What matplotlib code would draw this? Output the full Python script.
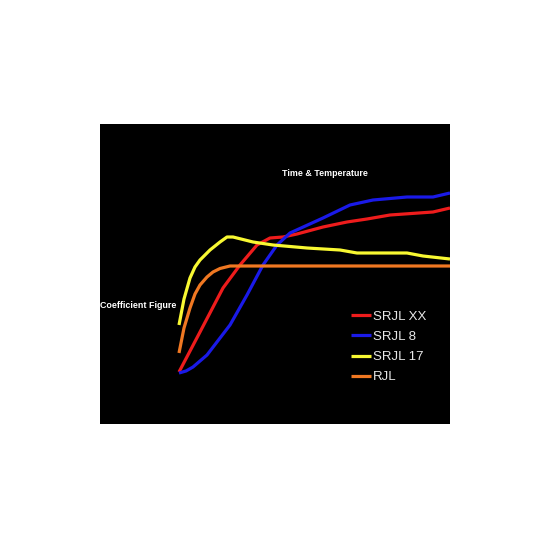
import matplotlib.pyplot as plt

# curve samples (x: time, y: coefficient)
yellow_x = [79, 84, 90, 95, 100, 110, 120, 127, 133, 153, 173, 207, 240, 257, 307, 323, 350]
yellow_y = [99, 125, 146, 157, 164, 174, 182, 187, 187, 182, 179, 176, 174, 171, 171, 168, 165]

orange_x = [79, 84, 90, 95, 100, 107, 113, 120, 130, 350]
orange_y = [71, 96, 116, 130, 139, 147, 152, 155.5, 158, 158]

red_x = [79, 100, 123, 140, 157, 170, 183, 197, 223, 247, 267, 290, 333, 350]
red_y = [52, 92, 136, 159, 179, 186, 187, 190, 197, 202, 205, 209, 212, 216]

blue_x = [79, 86, 93, 107, 130, 147, 163, 177, 190, 223, 250, 273, 307, 333, 350]
blue_y = [51, 53, 57, 69, 99, 129, 159, 179, 191, 206, 219, 224, 227, 227, 231]

series = [
    ('SRJL XX', red_x, red_y, '#ee1c1c'),
    ('SRJL 8', blue_x, blue_y, '#1a1ae8'),
    ('SRJL 17', yellow_x, yellow_y, '#f8f832'),
    ('RJL', orange_x, orange_y, '#f07822'),
]

plt.rcParams['font.family'] = ['Liberation Sans', 'DejaVu Sans']

fig = plt.figure(figsize=(5.5, 5.5), dpi=100)
ax = fig.add_axes([100 / 550, 126 / 550, 350 / 550, 300 / 550])
ax.set_facecolor('black')

for name, xs, ys, col in series:
    ax.plot(xs, ys, color=col, linewidth=2.3, label=name,
            solid_joinstyle='round', solid_capstyle='butt')

ax.set_xlim(0, 350)
ax.set_ylim(0, 300)
ax.set_xticks([])
ax.set_yticks([])
for s in ax.spines.values():
    s.set_visible(False)

ax.text(225, 251, 'Time & Temperature', color='white', fontsize=6.4,
        fontweight='bold', ha='center', va='center')
ax.text(0, 118, 'Coefficient Figure', color='white', fontsize=6.4,
        fontweight='bold', ha='left', va='center')

leg = ax.legend(loc='upper left', bbox_to_anchor=(0.718, 0.378), frameon=False,
                fontsize=9.5, labelcolor='#e8e8e8', handlelength=1.5,
                handletextpad=0.15, labelspacing=0.6, borderpad=0,
                borderaxespad=0)

fig.savefig('out.png', dpi=100, facecolor='white')
